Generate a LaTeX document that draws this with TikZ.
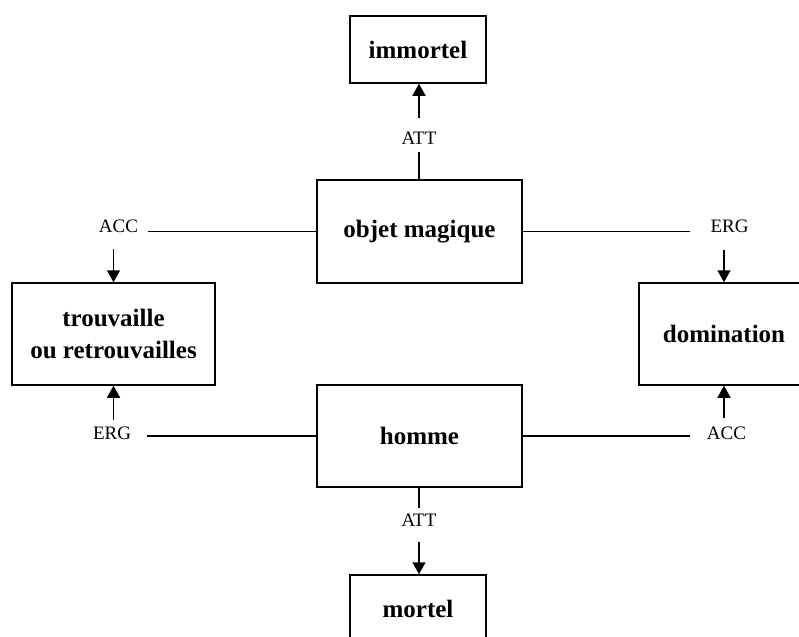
\documentclass[tikz,border=0pt]{standalone}
\usepackage{fontspec}
\setmainfont{Liberation Serif}
\usetikzlibrary{arrows.meta}

\begin{document}
\begin{tikzpicture}[x=0.5pt, y=-0.5pt,
  box/.style={draw, line width=0.75pt, inner sep=0pt, align=center,
    font=\bfseries\fontsize{12.5}{16}\selectfont},
  rel/.style={inner sep=0pt, font=\fontsize{9.5}{11}\selectfont},
  link/.style={line width=0.75pt},
  arr/.style={line width=0.75pt, -{Triangle[width=6.5pt,length=6pt]}}]

% ── Frame (page size in px units) ───────────────────────────────────
\useasboundingbox (0,0) rectangle (799,637);
\clip (0,0) rectangle (799,637);

% ── Boxes ───────────────────────────────────────────────────────────
\node[box, minimum width=68pt, minimum height=33.5pt] (immortel) at (418,49.5) {immortel};
\node[box, minimum width=102.5pt, minimum height=51.5pt] (objet) at (419.5,231.5) {objet magique};
\node[box, minimum width=101.5pt, minimum height=51pt] (trouv) at (113.5,334) {trouvaille\\ou retrouvailles};
\node[box, minimum width=85pt, minimum height=51pt] (domin) at (724,334) {domination};
\node[box, minimum width=102.5pt, minimum height=51pt] (homme) at (419.5,436) {homme};
\node[box, minimum width=68pt, minimum height=33.5pt] (mortel) at (418,608.5) {mortel};

% ── Relation labels ─────────────────────────────────────────────────
\node[rel] (attT) at (419,138.5) {ATT};
\node[rel] (accL) at (118.5,226) {ACC};
\node[rel] (ergR) at (729.5,226) {ERG};
\node[rel] (ergL) at (112,433.5) {ERG};
\node[rel] (accR) at (726.5,433.5) {ACC};
\node[rel] (attB) at (419,520) {ATT};

% ── Top: objet magique -> immortel ──────────────────────────────────
\draw[link, shorten >=3.5pt] (attT.south |- objet.north) -- (attT.south);
\draw[arr, shorten <=7pt] (attT.north) -- (attT.north |- immortel.south);

% ── Left side ───────────────────────────────────────────────────────
\draw[link, shorten >=5pt] (objet.west) -- (accL.east |- objet.west);
\draw[arr, shorten <=8pt] (accL.south -| trouv.north) -- (trouv.north);
\draw[link, shorten >=8pt] (homme.west) -- (ergL.east |- homme.west);
\draw[arr, shorten <=3.5pt] (ergL.north -| trouv.south) -- (trouv.south);

% ── Right side ──────────────────────────────────────────────────────
\draw[link, shorten >=10pt] (objet.east) -- (ergR.west |- objet.east);
\draw[arr, shorten <=8.5pt] (ergR.south -| domin.north) -- (domin.north);
\draw[link, shorten >=8.5pt] (homme.east) -- (accR.west |- homme.east);
\draw[arr, shorten <=4.5pt] (accR.north -| domin.south) -- (domin.south);

% ── Bottom: homme -> mortel ─────────────────────────────────────────
\draw[link, shorten >=2.5pt] (attB.north |- homme.south) -- (attB.north);
\draw[arr, shorten <=7.5pt] (attB.south) -- (attB.south |- mortel.north);

\end{tikzpicture}
\end{document}
